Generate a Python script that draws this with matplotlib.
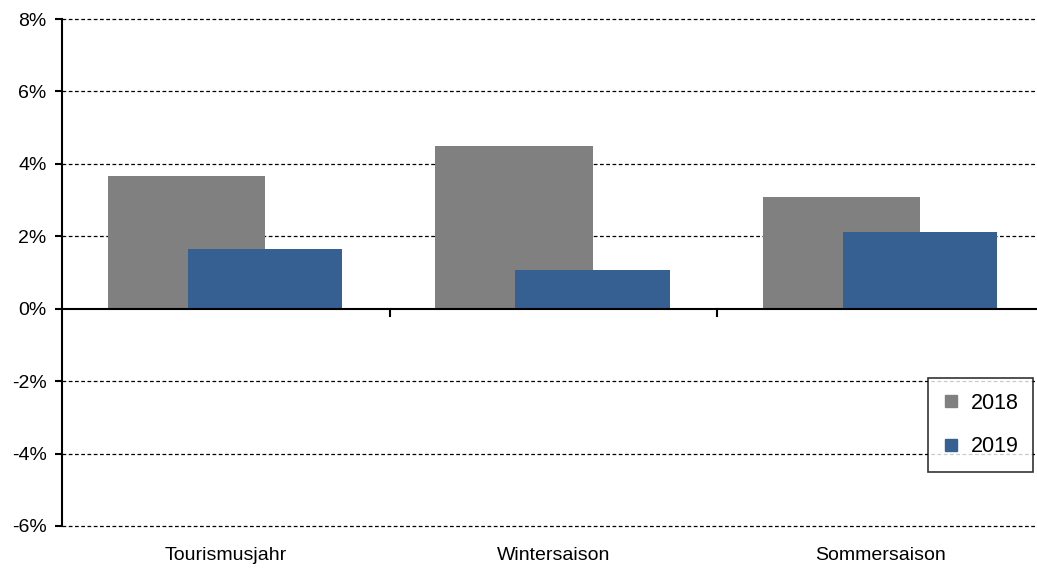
import numpy as np
import matplotlib
matplotlib.use("Agg")
import matplotlib.pyplot as plt
from matplotlib.lines import Line2D

# Chart data
categories = ["Tourismusjahr", "Wintersaison", "Sommersaison"]
series_names = ["2018", "2019"]
values_2018 = [3.67, 4.50, 3.09]
values_2019 = [1.66, 1.08, 2.13]
y_ticks = [-6, -4, -2, 0, 2, 4, 6, 8]

color_2018 = "#808080"
color_2019 = "#376092"

plt.rcParams["font.family"] = ["Liberation Sans", "DejaVu Sans"]

fig = plt.figure(figsize=(10.37, 5.68), dpi=100)
# axes extends past the right edge, like the original chart
ax = fig.add_axes([62 / 1037, 42 / 568, 982.5 / 1037, 507 / 568])

x = np.arange(len(categories))
ax.bar(x - 0.12, values_2018, width=0.48, color=color_2018, zorder=2)
ax.bar(x + 0.12, values_2019, width=0.472, color=color_2019, zorder=3)

ax.set_xlim(-0.5, len(categories) - 0.5)
ax.set_ylim(-6, 8)
ax.set_yticks(y_ticks)
ax.set_yticklabels([f"{v}%" for v in y_ticks], fontsize=14)

for v in y_ticks:
    if v != 0:
        ax.axhline(v, color="black", lw=0.9, ls=(0, (3, 2)), zorder=1,
                   clip_on=False)
ax.axhline(0, color="black", lw=1.5, zorder=4)

# category boundary ticks on the zero line
for b in x[:-1] + 0.5:
    ax.plot([b, b], [0, -0.19], color="black", lw=1.5, zorder=4, clip_on=False)

ax.set_xticks(x)
ax.set_xticklabels(categories, fontsize=14)
ax.tick_params(axis="x", length=0, pad=15)
ax.tick_params(axis="y", length=5, width=1.5, direction="out", pad=6)

for side in ["top", "right", "bottom"]:
    ax.spines[side].set_visible(False)
ax.spines["left"].set_linewidth(1.5)
ax.spines["left"].set_zorder(5)

handles = [Line2D([], [], marker="s", ls="none", markersize=9, color=color_2018),
           Line2D([], [], marker="s", ls="none", markersize=9, color=color_2019)]
leg = fig.legend(handles, series_names, loc="upper left",
                 bbox_to_anchor=(928 / 1037, 1 - 378 / 568),
                 frameon=True, fancybox=False, fontsize=15.5,
                 handlelength=0.8, handletextpad=0.5, labelspacing=1.05,
                 borderpad=0.68, borderaxespad=0)
leg.get_frame().set_edgecolor("black")
leg.get_frame().set_linewidth(1.2)

fig.savefig("out.png", dpi=100)
